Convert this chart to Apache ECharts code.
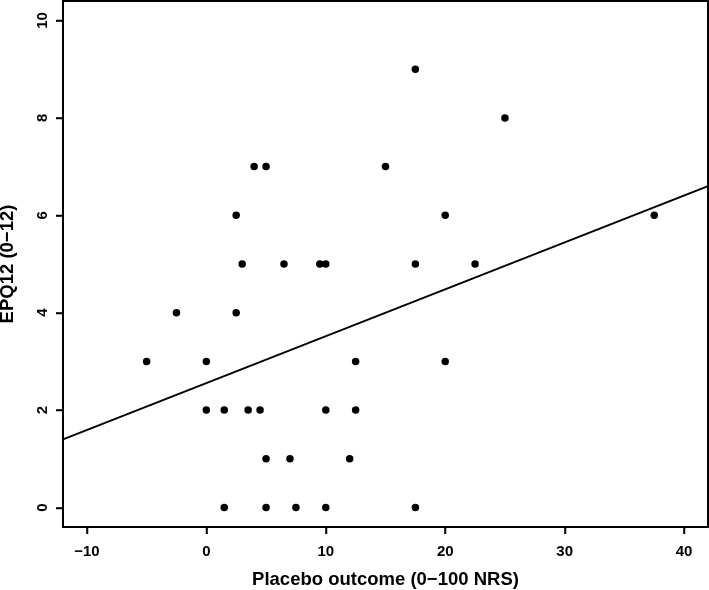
<!DOCTYPE html>
<html>
<head>
<meta charset="utf-8">
<script src="https://cdn.jsdelivr.net/npm/echarts@6/dist/echarts.min.js"></script>
<style>
html,body{margin:0;padding:0;background:#fff;}
#chart{width:709px;height:590px;}
</style>
</head>
<body>
<div id="chart"></div>
<script>
// Scatter data
var placeboOutcome = [17.5, 25, 4, 5, 15, 2.5, 20, 37.5, 3, 6.5, 9.5, 10, 17.5, 22.5, -2.5, 2.5, -5, 0, 12.5, 20, 0, 1.5, 3.5, 4.5, 10, 12.5, 5, 7, 12, 1.5, 5, 7.5, 10, 17.5];
var epq12 = [9, 8, 7, 7, 7, 6, 6, 6, 5, 5, 5, 5, 5, 5, 4, 4, 3, 3, 3, 3, 2, 2, 2, 2, 2, 2, 1, 1, 1, 0, 0, 0, 0, 0];
// Fitted line
var fitIntercept = 2.555;
var fitSlope = 0.0963;
// Axis limits and ticks
var xLimits = [-12, 42];
var yLimits = [-0.4, 10.4];
var xTicks = [-10, 0, 10, 20, 30, 40];
var yTicks = [0, 2, 4, 6, 8, 10];

var points = placeboOutcome.map(function (x, i) { return [x, epq12[i]]; });
var fitLine = xLimits.map(function (x) { return [x, fitIntercept + fitSlope * x]; });

var FONT = '"Liberation Sans", Arial, Helvetica, sans-serif';
var TICK_LEN = 7;
var chart = echarts.init(document.getElementById('chart'));
chart.setOption({
  animation: false,
  grid: {
    left: 63, right: 1, top: 1, bottom: 63,
    outerBoundsMode: 'none',
    show: true, borderColor: '#000', borderWidth: 2
  },
  xAxis: {
    type: 'value',
    min: xLimits[0], max: xLimits[1],
    name: 'Placebo outcome (0\u2212100 NRS)',
    nameLocation: 'middle',
    nameGap: 43,
    nameTextStyle: { fontFamily: FONT, fontWeight: 'bold', fontSize: 18.5, color: '#000' },
    splitLine: { show: false },
    axisLine: { show: true, onZero: false, lineStyle: { color: '#000', width: 2 } },
    axisTick: { show: true, length: TICK_LEN, customValues: xTicks, lineStyle: { color: '#000', width: 1.5 } },
    axisLabel: {
      customValues: xTicks, margin: 17,
      fontFamily: FONT, fontWeight: 'bold', fontSize: 15, color: '#000',
      formatter: function (v) { return String(v).replace('-', '\u2212'); }
    }
  },
  yAxis: {
    type: 'value',
    min: yLimits[0], max: yLimits[1],
    name: 'EPQ12 (0\u221212)',
    nameLocation: 'middle',
    nameGap: 46,
    nameRotate: 90,
    nameTextStyle: { fontFamily: FONT, fontWeight: 'bold', fontSize: 18.5, color: '#000' },
    splitLine: { show: false },
    axisLine: { show: true, onZero: false, lineStyle: { color: '#000', width: 2 } },
    axisTick: { show: true, length: TICK_LEN, customValues: yTicks, lineStyle: { color: '#000', width: 1.5 } },
    axisLabel: {
      customValues: yTicks, margin: 13, rotate: 90,
      fontFamily: FONT, fontWeight: 'bold', fontSize: 15, color: '#000'
    }
  },
  series: [
    {
      type: 'scatter',
      data: points,
      symbol: 'circle',
      symbolSize: 7.5,
      itemStyle: { color: '#000', opacity: 1 }
    },
    {
      type: 'line',
      data: fitLine,
      showSymbol: false,
      symbol: 'none',
      lineStyle: { color: '#000', width: 2 }
    }
  ]
});

// Outward tick marks placed through the axes' own scales
var yBottom = chart.convertToPixel({ yAxisIndex: 0 }, yLimits[0]);
var xLeft = chart.convertToPixel({ xAxisIndex: 0 }, xLimits[0]);
var tickGraphics = [];
xTicks.forEach(function (v) {
  var px = Math.round(chart.convertToPixel({ xAxisIndex: 0 }, v)) + 0.5;
  tickGraphics.push({
    type: 'line', silent: true, z: 100,
    shape: { x1: px, y1: yBottom, x2: px, y2: yBottom + TICK_LEN },
    style: { stroke: '#000', lineWidth: 1.5 }
  });
});
yTicks.forEach(function (v) {
  var py = Math.round(chart.convertToPixel({ yAxisIndex: 0 }, v)) + 0.5;
  tickGraphics.push({
    type: 'line', silent: true, z: 100,
    shape: { x1: xLeft - TICK_LEN, y1: py, x2: xLeft, y2: py },
    style: { stroke: '#000', lineWidth: 1.5 }
  });
});
chart.setOption({ graphic: tickGraphics });
</script>
</body>
</html>
